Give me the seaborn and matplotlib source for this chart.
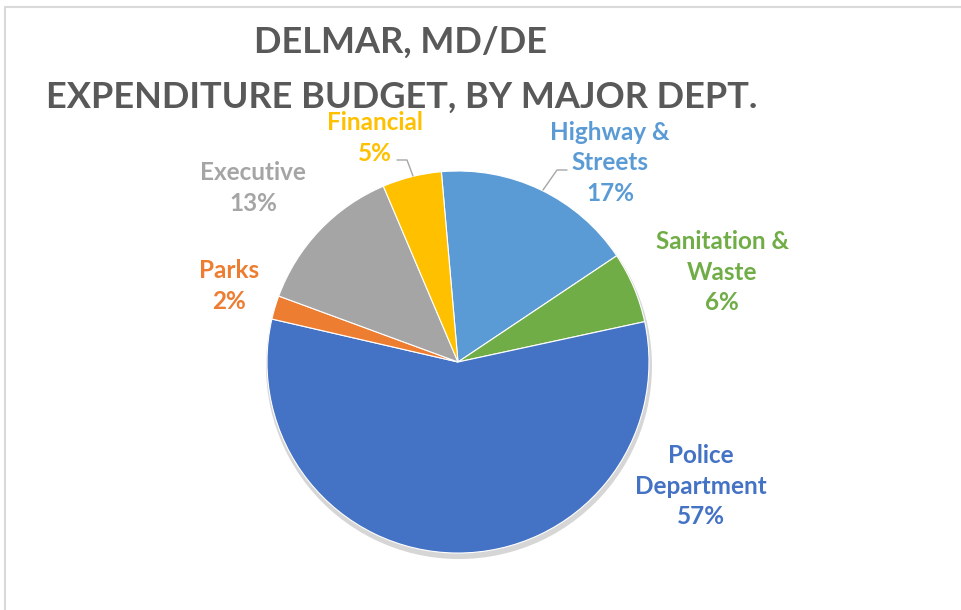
import numpy as np
import matplotlib
matplotlib.use("Agg")
import matplotlib.pyplot as plt
import seaborn as sns

# data (clockwise, starting just left of 12 o'clock)
depts = ["Highway &\nStreets", "Sanitation &\nWaste", "Police\nDepartment",
         "Parks", "Executive", "Financial"]
shares = [17, 6, 57, 2, 13, 5]
colors = ["#5B9BD5", "#70AD47", "#4472C4", "#ED7D31", "#A5A5A5", "#FFC000"]
title_lines = ["DELMAR, MD/DE", "EXPENDITURE BUDGET, BY MAJOR DEPT."]

# layout (pixels, y measured from top)
W, H = 961, 610
cx, cy, rad = 458, 362, 191
explode = [0, 0, 0.03, 0, 0, 0]
label_xy = [(610, 163), (722, 272), (701, 486), (229, 286), (253, 188), (375, 138)]

sns.set_theme(style="white")
plt.rcParams["font.family"] = ["Lato", "DejaVu Sans"]

fig = plt.figure(figsize=(W / 100, H / 100), dpi=100)
ax = fig.add_axes([0, 0, 1, 1])

# soft shadow underneath
ax.pie(shares, colors=["#d6d6d6"] * len(shares), startangle=95, counterclock=False,
       explode=explode, radius=rad + 2, center=(cx + 1, H - cy - 4),
       wedgeprops=dict(linewidth=0), frame=True)
wedges, _ = ax.pie(shares, colors=colors, startangle=95, counterclock=False,
                   explode=explode, radius=rad, center=(cx, H - cy),
                   wedgeprops=dict(edgecolor="white", linewidth=0.8), frame=True)

for d, s, c, (lx, ly) in zip(depts, shares, colors, label_xy):
    ax.text(lx, H - ly, f"{d}\n{s}%", color=c, fontsize=17.5, fontweight="bold",
            ha="center", va="center", linespacing=1.38)

# leader lines
ax.plot([397, 407, 413], [H - 160, H - 160, H - 176], color="#a6a6a6", lw=1)
ax.plot([567, 557, 543], [H - 170, H - 170, H - 190], color="#a6a6a6", lw=1)

ax.text(401, H - 42, title_lines[0], ha="center", va="center", fontsize=26,
        fontweight="bold", color="#595959")
ax.text(402, H - 97, title_lines[1], ha="center", va="center", fontsize=26,
        fontweight="bold", color="#595959")

# chart frame
ax.plot([5, 5, W + 5], [-5, H - 7, H - 7], color="#d9d9d9", lw=1.5)

ax.set_xlim(0, W)
ax.set_ylim(0, H)
ax.set_aspect("equal")
ax.axis("off")
fig.savefig("out.png", dpi=100)
